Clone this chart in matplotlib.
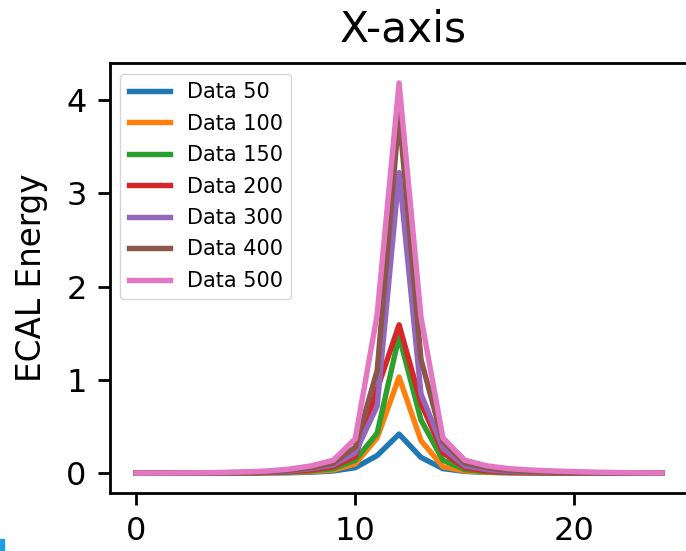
import matplotlib
matplotlib.use("Agg")
import matplotlib.pyplot as plt
import numpy as np
from matplotlib.patches import Rectangle

# energy deposited per cell along the x axis, one series per beam energy
x_cells = np.arange(25)

data_50 = [0.0, 0.0, 0.0, 0.0, 0.0, 0.002, 0.004, 0.006, 0.012, 0.025, 0.06, 0.19,
           0.42, 0.17, 0.05, 0.02, 0.01, 0.006, 0.004, 0.002, 0.001, 0.0, 0.0, 0.0, 0.0]
data_100 = [0.0, 0.0, 0.0, 0.001, 0.002, 0.003, 0.006, 0.01, 0.02, 0.035, 0.1, 0.38,
            1.03, 0.35, 0.07, 0.025, 0.012, 0.007, 0.004, 0.003, 0.002, 0.001, 0.0, 0.0, 0.0]
data_150 = [0.0, 0.0, 0.001, 0.001, 0.002, 0.004, 0.008, 0.014, 0.028, 0.05, 0.14, 0.43,
            1.47, 0.57, 0.14, 0.04, 0.018, 0.01, 0.006, 0.004, 0.002, 0.001, 0.001, 0.0, 0.0]
data_200 = [0.0, 0.0, 0.001, 0.002, 0.003, 0.005, 0.01, 0.018, 0.035, 0.07, 0.18, 0.9,
            1.59, 0.75, 0.22, 0.06, 0.025, 0.012, 0.007, 0.005, 0.003, 0.002, 0.001, 0.0, 0.0]
data_300 = [0.001, 0.001, 0.002, 0.003, 0.005, 0.008, 0.014, 0.025, 0.05, 0.09, 0.22, 0.72,
            3.22, 0.85, 0.27, 0.08, 0.04, 0.02, 0.012, 0.008, 0.005, 0.003, 0.002, 0.001, 0.001]
data_400 = [0.001, 0.002, 0.003, 0.004, 0.006, 0.01, 0.018, 0.032, 0.06, 0.11, 0.28, 1.1,
            3.85, 1.22, 0.34, 0.11, 0.06, 0.03, 0.018, 0.012, 0.008, 0.005, 0.003, 0.002, 0.001]
data_500 = [0.002, 0.003, 0.004, 0.006, 0.01, 0.015, 0.025, 0.045, 0.08, 0.14, 0.37, 1.7,
            4.18, 1.67, 0.38, 0.14, 0.08, 0.05, 0.035, 0.025, 0.018, 0.012, 0.008, 0.005, 0.003]

energies = [50, 100, 150, 200, 300, 400, 500]
series = [data_50, data_100, data_150, data_200, data_300, data_400, data_500]
x_ticks = [0, 10, 20]

fig = plt.figure(figsize=(6.86, 5.51), dpi=100)
# axes run slightly past the right edge of the canvas
ax = fig.add_axes([0.16, 0.1056, 0.855, 0.7793])

for e, y in zip(energies, series):
    ax.plot(x_cells, y, lw=3.9, label=f"Data {e}")

ax.set_xlim(-1.2, 25.56)
ax.set_xticks(x_ticks)
ax.set_title("X-axis", fontsize=30.5, pad=16)
ax.set_ylabel("ECAL Energy", fontsize=23.5, labelpad=13)
ax.tick_params(labelsize=23, length=8.6, width=2.0, pad=8)
for sp in ax.spines.values():
    sp.set_linewidth(2.0)
ax.spines["right"].set_visible(False)
ax.legend(loc="upper left", fontsize=15, labelspacing=0.55)

# small colour mark in the lower-left corner
fig.patches.append(Rectangle((0, 0), 4 / 686, 12 / 551, transform=fig.transFigure,
                             color="#1ba1e2", zorder=10))

fig.savefig("out.png", dpi=100)
